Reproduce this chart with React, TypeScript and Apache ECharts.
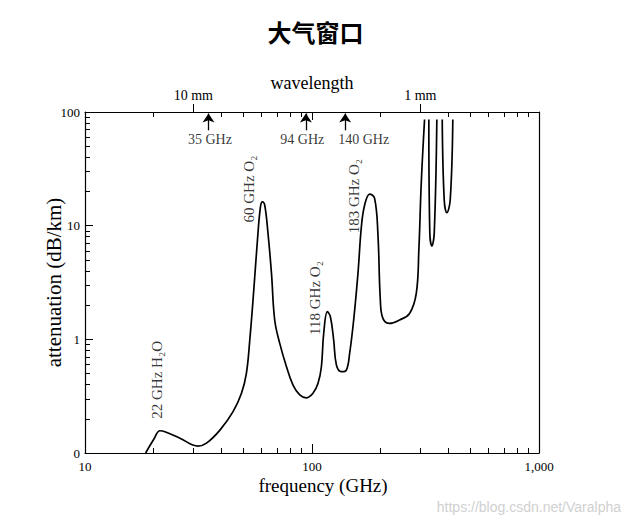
import React, { useEffect, useRef } from 'react';
import * as echarts from 'echarts';

// ---- data ----
// frequency (GHz) and attenuation (dB/km); null marks a break in the curve
const freqGHz = [
  18.5, 20.0, 21.4, 22.5, 26.2, 31.5, 34.3, 39.3, 44.9, 48.9, 51.4, 53.2, 55.4, 57.5, 59.3, 60.5,
  61.9, 64.0, 66.3, 68.5, 72.1, 77.2, 82.5, 88.3, 94.5, 101, 106.3, 110, 112.6, 116.9, 120.5,
  124.6, 128.1, 134.7, 141.7, 146.5, 152.6, 159.4, 165, 170.6, 179.5, 188.7, 195.1, 200, 205.3,
  219.8, 243.1, 269, 288, 295.6, 302.9, 313.2, 320,
  327.1, 330.4, 337.3, 345.5, 354.8, 365,
  374.7, 382.4, 392.6, 406.3, 417.2,
];
const attenDbKm = [
  0.1, 0.13, 0.157, 0.154, 0.135, 0.115, 0.122, 0.159, 0.231, 0.335, 0.502, 0.986, 2.71, 7.47, 14.7, 16.2,
  15.2, 8.56, 3.8, 1.48, 0.922, 0.574, 0.396, 0.324, 0.306, 0.335, 0.41, 0.574, 1.13, 1.75, 1.58,
  0.986, 0.594, 0.519, 0.537, 0.753, 1.48, 3.8, 9.78, 15.2, 18.97, 17.4, 8.56, 2.22, 1.53,
  1.38, 1.48, 1.69, 2.54, 6.1, 23.6, 86, null,
  86, 8.56, 6.62, 8.56, 86, null,
  86, 16.8, 13.0, 16.8, 86,
];

// axis ticks and labels (in GHz / dB/km)
const xRange = [10, 1000];
const yRange = [0.1, 100];
const xMajorTicks = [10, 100, 1000];
const xMajorLabels = ['10', '100', '1,000'];
const xMinorTicks = [20, 30, 40, 50, 60, 70, 80, 90, 200, 300, 400, 500, 600, 700, 800, 900];
const topMinorTicks = [20, 40, 50, 60, 70, 80, 90, 200, 400, 500, 600, 700, 800, 900];
const topMajorTicks = [100];
const wavelengthTicks = [30, 300];
const wavelengthLabels = ['10 mm', '1 mm'];
const yMajorTicks = [0.1, 1, 10, 100];
const yMajorLabels = ['0', '1', '10', '100'];
const yMinorTicks = [
  0.2, 0.3, 0.4, 0.5, 0.6, 0.7, 0.8, 0.9,
  2, 3, 4, 5, 6, 7, 8, 9,
  20, 30, 40, 50, 60, 70, 80, 90,
];

// absorption line annotations
const lineLabels = ['22 GHz H₂O', '60 GHz O₂', '118 GHz O₂', '183 GHz O₂'];
const lineLabelFreq = [20.7, 52.7, 102.8, 152.6];
const lineLabelAtten = [0.44, 21.0, 2.31, 18.2];

// atmospheric window arrows
const windowFreq = [35, 94, 140];
const windowLabels = ['35 GHz', '94 GHz', '140 GHz'];
const windowLabelFreq = [35.5, 90.6, 168.9];
const windowLabelAtten = 57.8;
const arrowFrom = 69;
const arrowTo = 97;

const SERIF = '"Liberation Serif", "Times New Roman", serif';
const lg = (v: number) => Math.log10(v);
const pick = (ticks: number[], labels: string[]) => (v: number) => {
  const i = ticks.findIndex((t) => Math.abs(lg(t) - v) < 1e-6);
  return i >= 0 ? labels[i] : '';
};

export default function App() {
  const ref = useRef<HTMLDivElement>(null);

  useEffect(() => {
    if (!ref.current) return;
    const chart = echarts.init(ref.current, undefined, { renderer: 'svg' });

    const lineData = freqGHz.map((f, i) =>
      attenDbKm[i] == null ? [lg(f), '-'] : [lg(f), lg(attenDbKm[i] as number)]
    );

    const black = '#000';
    const baseX = {
      type: 'value',
      min: lg(xRange[0]),
      max: lg(xRange[1]),
      splitLine: { show: false },
      nameMoveOverlap: false,
    };
    const baseY = {
      type: 'value',
      min: lg(yRange[0]),
      max: lg(yRange[1]),
      splitLine: { show: false },
      nameMoveOverlap: false,
    };
    const line = (show: boolean) => ({
      show,
      onZero: false,
      lineStyle: { color: black, width: 1.2 },
    });
    const tick = (values: number[], length: number, inside: boolean) => ({
      show: true,
      inside,
      length,
      customValues: values.map(lg),
      lineStyle: { color: black, width: 1 },
    });

    const option: any = {
      animation: false,
      backgroundColor: '#fff',
      title: {
        text: '大气窗口',
        left: 'center',
        top: 14,
        textStyle: {
          fontFamily: '"Noto Sans CJK SC", sans-serif',
          fontWeight: 'bold',
          fontSize: 24,
          color: black,
        },
      },
      grid: { left: 85, right: 92, top: 112, bottom: 69, containLabel: false },
      xAxis: [
        {
          ...baseX,
          position: 'bottom',
          name: 'frequency (GHz)',
          nameLocation: 'middle',
          nameGap: 23,
          nameTextStyle: { fontFamily: SERIF, fontSize: 19, color: black, padding: [0, 0, 0, 22] },
          axisLine: line(true),
          axisTick: tick(xMajorTicks, 9, true),
          axisLabel: {
            show: true,
            margin: 7,
            customValues: xMajorTicks.map(lg),
            fontFamily: SERIF,
            fontSize: 13,
            color: black,
            formatter: pick(xMajorTicks, xMajorLabels),
          },
        },
        {
          ...baseX,
          position: 'bottom',
          axisLine: line(false),
          axisTick: tick(xMinorTicks, 5, true),
          axisLabel: { show: false },
        },
        {
          ...baseX,
          position: 'top',
          axisLine: line(true),
          axisTick: tick(topMinorTicks, 5, true),
          axisLabel: { show: false },
        },
        {
          ...baseX,
          position: 'top',
          axisLine: line(false),
          axisTick: tick(topMajorTicks, 8, true),
          axisLabel: { show: false },
        },
        {
          ...baseX,
          position: 'top',
          name: 'wavelength',
          nameLocation: 'middle',
          nameGap: 20,
          nameTextStyle: { fontFamily: SERIF, fontSize: 18, color: black },
          axisLine: line(false),
          axisTick: tick(wavelengthTicks, 8, false),
          axisLabel: {
            show: true,
            margin: 10,
            customValues: wavelengthTicks.map(lg),
            fontFamily: SERIF,
            fontSize: 14,
            color: black,
            formatter: pick(wavelengthTicks, wavelengthLabels),
          },
        },
      ],
      yAxis: [
        {
          ...baseY,
          position: 'left',
          name: 'attenuation (dB/km)',
          nameLocation: 'middle',
          nameRotate: 90,
          nameGap: 21,
          nameTextStyle: { fontFamily: SERIF, fontSize: 21, color: black },
          axisLine: line(true),
          axisTick: tick(yMajorTicks, 8, true),
          axisLabel: {
            show: true,
            margin: 5,
            customValues: yMajorTicks.map(lg),
            showMinLabel: true,
            showMaxLabel: true,
            fontFamily: SERIF,
            fontSize: 13,
            color: black,
            formatter: pick(yMajorTicks, yMajorLabels),
          },
        },
        {
          ...baseY,
          position: 'left',
          axisLine: line(false),
          axisTick: tick(yMinorTicks, 5, true),
          axisLabel: { show: false },
        },
        {
          ...baseY,
          position: 'right',
          axisLine: line(true),
          axisTick: { show: false },
          axisLabel: { show: false },
        },
      ],
      graphic: [
        {
          type: 'text',
          right: 10,
          bottom: 8,
          style: {
            text: 'https://blog.csdn.net/Varalpha',
            fontFamily: '"Liberation Sans", Arial, sans-serif',
            fontSize: 14,
            fill: '#d0d0d0',
          },
        },
      ],
      series: [
        {
          name: 'attenuation',
          type: 'line',
          xAxisIndex: 0,
          yAxisIndex: 0,
          data: lineData,
          showSymbol: false,
          symbol: 'none',
          connectNulls: false,
          smooth: 0.4,
          lineStyle: { color: black, width: 1.7 },
          silent: true,
          clip: true,
        },
        {
          name: 'lines',
          type: 'scatter',
          xAxisIndex: 0,
          yAxisIndex: 0,
          symbolSize: 1,
          itemStyle: { color: 'rgba(0,0,0,0)' },
          silent: true,
          label: {
            show: true,
            position: 'inside',
            rotate: 90,
            fontFamily: SERIF,
            fontSize: 15,
            color: black,
          },
          data: lineLabelFreq.map((f, i) => ({
            value: [lg(f), lg(lineLabelAtten[i])],
            label: { formatter: lineLabels[i] },
          })),
        },
        {
          name: 'windows',
          type: 'scatter',
          xAxisIndex: 0,
          yAxisIndex: 0,
          symbolSize: 1,
          itemStyle: { color: 'rgba(0,0,0,0)' },
          silent: true,
          label: {
            show: true,
            position: 'inside',
            fontFamily: SERIF,
            fontSize: 14,
            color: black,
          },
          data: windowLabelFreq.map((f, i) => ({
            value: [lg(f), lg(windowLabelAtten)],
            label: { formatter: windowLabels[i] },
          })),
          markLine: {
            silent: true,
            symbol: ['none', 'arrow'],
            symbolSize: 9,
            precision: 6,
            label: { show: false },
            lineStyle: { color: black, width: 1.3, type: 'solid' },
            emphasis: { disabled: true },
            data: windowFreq.map((f) => [
              { coord: [lg(f), lg(arrowFrom)] },
              { coord: [lg(f), lg(arrowTo)] },
            ]),
          },
        },
      ],
    };

    chart.setOption(option);
    return () => {
      chart.dispose();
    };
  }, []);

  return (
    <div
      ref={ref}
      style={{ position: 'fixed', left: 0, top: 0, width: 631, height: 522, background: '#fff' }}
    />
  );
}
